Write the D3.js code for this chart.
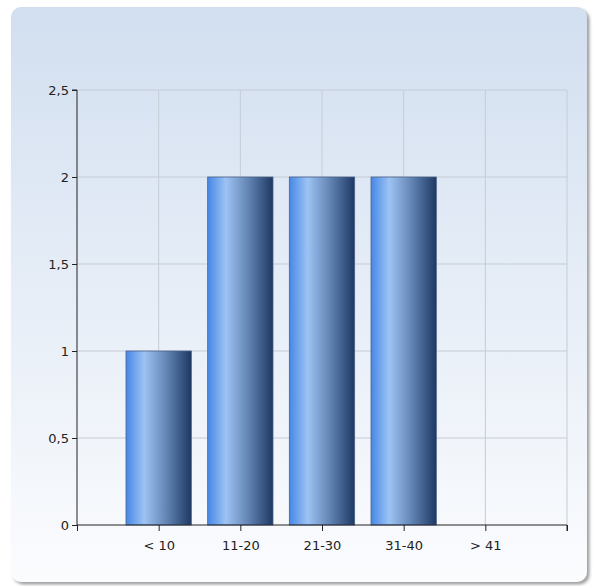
<!DOCTYPE html>
<html lang="en">
<head>
  <meta charset="UTF-8">
  <title>Bar chart</title>
  <style>
    body, html { margin: 0; padding: 0; background: #ffffff; }
    svg { display: block; }
  </style>
</head>
<body>
  <svg id="svg" width="594" height="586"></svg>
  <script src="https://d3js.org/d3.v7.min.js"></script>
  <script>
    const categories = ['< 10', '11-20', '21-30', '31-40', '> 41']
    const values = [1, 2, 2, 2, 0]
    const yTicks = [0, 0.5, 1, 1.5, 2, 2.5]

    const svg = d3.select('#svg')
    const defs = svg.append('defs')

    // panel background
    const bg = defs.append('linearGradient').attr('id', 'bg')
      .attr('x1', 0).attr('y1', 0).attr('x2', 0).attr('y2', 1)
    bg.append('stop').attr('offset', '0%').attr('stop-color', '#d2dff0')
    bg.append('stop').attr('offset', '100%').attr('stop-color', '#fbfcfe')

    const barGrad = defs.append('linearGradient').attr('id', 'bar')
      .attr('x1', 0).attr('y1', 0).attr('x2', 1).attr('y2', 0)
    barGrad.append('stop').attr('offset', '0%').attr('stop-color', '#4688e6')
    barGrad.append('stop').attr('offset', '28%').attr('stop-color', '#9dc3f4')
    barGrad.append('stop').attr('offset', '65%').attr('stop-color', '#5d7fae')
    barGrad.append('stop').attr('offset', '100%').attr('stop-color', '#1e3863')

    const shadow = defs.append('filter').attr('id', 'shadow')
      .attr('x', '-5%').attr('y', '-5%').attr('width', '110%').attr('height', '110%')
    shadow.append('feDropShadow').attr('dx', 2.5).attr('dy', 2.5)
      .attr('stdDeviation', 1.5).attr('flood-color', '#777').attr('flood-opacity', 0.7)

    svg.append('rect')
      .attr('x', 11).attr('y', 7).attr('width', 576).attr('height', 575)
      .attr('rx', 10).attr('ry', 10)
      .attr('fill', 'url(#bg)')
      .attr('filter', 'url(#shadow)')

    const plotL = 77, plotR = 567, plotT = 90, plotB = 525

    const x = d3.scaleLinear().domain([0, categories.length + 1]).range([plotL, plotR])
    const y = d3.scaleLinear().domain([0, 2.5]).range([plotB, plotT])
    const step = x(1) - x(0)
    const barW = step * 0.8

    const fmt = d => String(d).replace('.', ',')

    // grid
    svg.append('g').selectAll('line')
      .data(yTicks.slice(1))
      .enter().append('line')
      .attr('x1', plotL).attr('x2', plotR)
      .attr('y1', d => y(d)).attr('y2', d => y(d))
      .attr('stroke', '#c5ccd6').attr('stroke-width', 1)

    svg.append('g').selectAll('line')
      .data(d3.range(1, categories.length + 2))
      .enter().append('line')
      .attr('x1', d => x(d)).attr('x2', d => x(d))
      .attr('y1', plotT).attr('y2', plotB)
      .attr('stroke', '#c5ccd6').attr('stroke-width', 1)

    // bars
    svg.append('g').selectAll('rect')
      .data(values)
      .enter().append('rect')
      .attr('x', (d, i) => x(i + 1) - barW / 2)
      .attr('y', d => y(d))
      .attr('width', barW)
      .attr('height', d => plotB - y(d))
      .attr('fill', 'url(#bar)')
      .attr('stroke', d => d > 0 ? '#4a6288' : 'none')
      .attr('stroke-width', 0.8)

    // y axis
    const yAxis = svg.append('g')
      .attr('transform', `translate(${plotL},0)`)
      .call(d3.axisLeft(y).tickValues(yTicks).tickFormat(fmt).tickSize(5).tickPadding(3))
    yAxis.select('.domain').attr('stroke', '#222').attr('d', `M-5,${plotT}H0V${plotB}`)

    // x axis
    const xAxis = svg.append('g')
      .attr('transform', `translate(0,${plotB})`)
      .call(d3.axisBottom(x).tickValues(d3.range(0, categories.length + 2))
        .tickFormat(d => categories[d - 1] || '').tickSize(6).tickPadding(10))
    xAxis.select('.domain').attr('stroke', '#222').attr('d', `M${plotL},0H${plotR}V6`)

    svg.selectAll('.tick line').attr('stroke', '#222')
    svg.selectAll('.tick text')
      .style('font-family', 'DejaVu Sans, Verdana, sans-serif')
      .style('font-size', '13px')
      .attr('fill', '#222')
  </script>
</body>
</html>
